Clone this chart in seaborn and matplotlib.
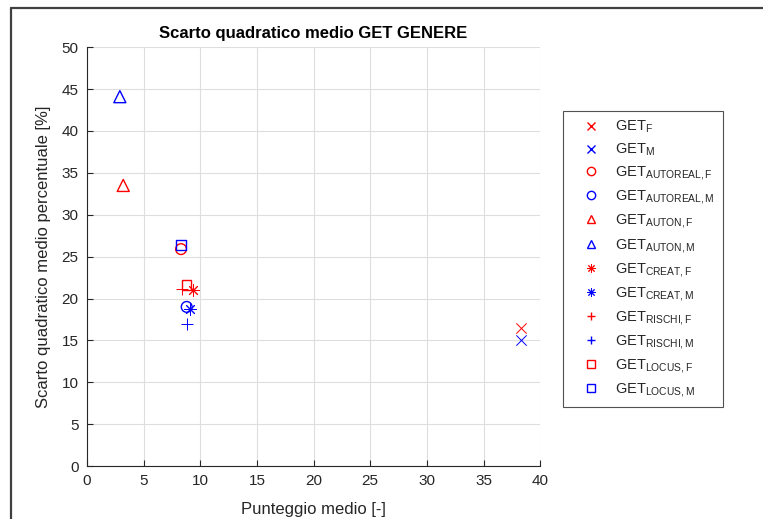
import matplotlib
matplotlib.use("Agg")
import matplotlib.pyplot as plt
from matplotlib.lines import Line2D
import seaborn as sns
import pandas as pd

# Mean score and percentage RMS deviation for each GET dimension, split by gender
labels = ["F", "M", "AUTOREAL,F", "AUTOREAL,M", "AUTON,F", "AUTON,M",
          "CREAT,F", "CREAT,M", "RISCHI,F", "RISCHI,M", "LOCUS,F", "LOCUS,M"]
mean_score = [38.3, 38.3, 8.3, 8.8, 3.2, 2.9, 9.4, 9.1, 8.4, 8.8, 8.8, 8.3]
rms_pct = [16.5, 15.1, 25.9, 19.0, 33.5, 44.1, 21.0, 18.7, 21.1, 17.0, 21.6, 26.4]
gender = ["F", "M"] * 6
shape = ["x", "x", "o", "o", "^", "^", (8, 2, 0), (8, 2, 0), "+", "+", "s", "s"]

palette = {"F": "#ff0000", "M": "#0000ff"}
filled = {"o", "^", "s"}
sizes = {"x": 55, "o": 60, "^": 75, "+": 75, "s": 45, "*": 70}

df = pd.DataFrame({"label": labels, "x": mean_score, "y": rms_pct, "g": gender})

sns.set_theme(style="white")
plt.rcParams["font.family"] = ["Liberation Sans", "DejaVu Sans"]
plt.rcParams["mathtext.fontset"] = "custom"
plt.rcParams["mathtext.rm"] = "Liberation Sans"
plt.rcParams["mathtext.it"] = "Liberation Sans"
plt.rcParams["mathtext.bf"] = "Liberation Sans:bold"
plt.rcParams["xtick.direction"] = "in"
plt.rcParams["ytick.direction"] = "in"

fig = plt.figure(figsize=(7.63, 5.19), dpi=100)
ax = fig.add_axes([0.114, 0.102, 0.594, 0.807])

handles = []
for i, row in df.iterrows():
    m = shape[i]
    col = palette[row["g"]]
    key = m if isinstance(m, str) else "*"
    s = sizes[key]
    sub = df.iloc[[i]]
    hollow = isinstance(m, str) and m in filled
    if hollow:
        sns.scatterplot(data=sub, x="x", y="y", ax=ax, marker=m, s=s,
                        facecolors="none", edgecolor=col, linewidth=1.0,
                        legend=False, zorder=3)
    else:
        sns.scatterplot(data=sub, x="x", y="y", ax=ax, marker=m, s=s,
                        color=col, edgecolor=col, linewidth=0.7,
                        legend=False, zorder=3)
    handles.append(Line2D([], [], linestyle="none", marker=m, markersize=6,
                          markerfacecolor="none" if hollow else col,
                          markeredgecolor=col,
                          markeredgewidth=1.0 if hollow or m in ("x", "+") else 0.7,
                          label=r"GET$_{\mathrm{" + row["label"] + "}}$"))

ax.set_xlim(0, 40)
ax.set_ylim(0, 50)
ax.set_xticks(range(0, 41, 5))
ax.set_yticks(range(0, 51, 5))
ax.grid(True, color="#dedede", linewidth=0.8)
ax.set_axisbelow(True)
for side in ["top", "right"]:
    ax.spines[side].set_visible(False)
for side in ["left", "bottom"]:
    ax.spines[side].set_color("#262626")
    ax.spines[side].set_linewidth(0.8)
ax.tick_params(direction="in", length=4, width=0.8, color="#262626",
               labelsize=11, labelcolor="#262626", left=True, bottom=True, pad=6)

ax.set_xlabel("Punteggio medio [-]", fontsize=12, color="#262626", labelpad=10)
ax.set_ylabel("Scarto quadratico medio percentuale [%]", fontsize=12,
              color="#262626", labelpad=8)
ax.set_title("Scarto quadratico medio GET GENERE", fontsize=12,
             fontweight="bold", color="black", pad=7)

leg = fig.legend(handles=handles, loc="upper left",
                 bbox_to_anchor=(0.738, 0.786), frameon=True, fancybox=False,
                 fontsize=10.5, labelspacing=0.42, handletextpad=0.3,
                 borderpad=0.55, handlelength=2.7, borderaxespad=0)
leg.get_frame().set_edgecolor("#262626")
leg.get_frame().set_linewidth(0.8)

# outer frame around the figure area
fig.add_artist(Line2D([0.014, 1.0], [0.985, 0.985], color="#404040",
                      linewidth=1.6, transform=fig.transFigure))
fig.add_artist(Line2D([0.014, 0.014], [0.0, 0.985], color="#404040",
                      linewidth=1.6, transform=fig.transFigure))

fig.savefig("out.png", dpi=100)
